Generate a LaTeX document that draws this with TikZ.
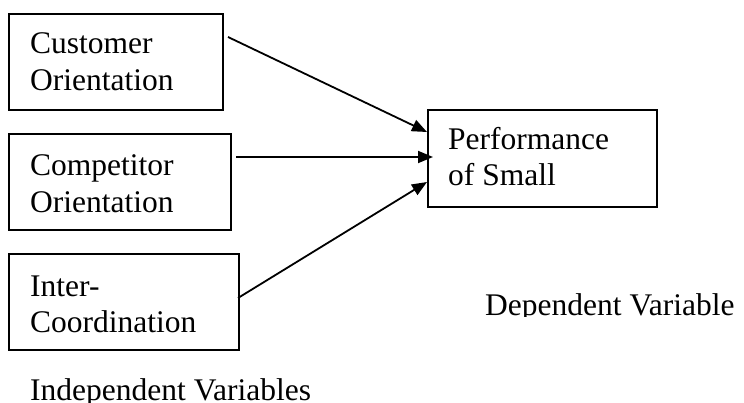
\documentclass[tikz,border=0pt]{standalone}
\usepackage{fontspec}
\setmainfont{Liberation Serif}
\usetikzlibrary{arrows.meta,calc}
\begin{document}
\begin{tikzpicture}[x=1pt,y=-1pt,
  box/.style={draw=black,line width=1.8pt,minimum width=#1,minimum height=96pt,inner sep=0pt,anchor=north west},
  txt/.style={anchor=base west,inner sep=0pt,font=\fontsize{31.5}{37}\selectfont},
  arr/.style={line width=1.8pt,-{Triangle[length=15pt,width=12pt]}}]
\useasboundingbox[fill=white] (0,0) rectangle (744,403);
% boxes
\node[box=214pt] (cust) at (8,13) {};
\node[box=222pt] (comp) at (8,133) {};
\node[box=230pt] (inter) at (8,253) {};
\node[box=229pt,minimum height=97pt] (perf) at (427,109) {};
% texts
\node[txt] (t1a) at (30,54) {Customer};
\node[txt] (t1b) at (30,91) {Orientation};
\node[txt] (t2a) at (30,176) {Competitor};
\node[txt] (t2b) at (30,213) {Orientation};
\node[txt] (t3a) at (30,297) {Inter-};
\node[txt] (t3b) at (30,332) {Coordination};
\node[txt] (t4a) at (448,150) {Performance};
\node[txt] (t4b) at (448,186) {of Small};
\node[txt] (indep) at (30,400) {Independent Variables};
\begin{scope}
  \clip (470,270) rectangle (744,316.5);
  \node[txt] (dep) at (485,315) {Dependent Variable};
\end{scope}
% arrows
\coordinate (s1) at (228,37);
\coordinate (s2) at (236,157);
\coordinate (s3) at (238,298);
\coordinate (e1) at ($(perf.north west)+(0,23)$);
\coordinate (e2) at ($(perf.north west)+(6,48)$);
\coordinate (e3) at ($(perf.north west)+(0,73)$);
\draw[arr] (s1) -- (e1);
\draw[arr] (s2) -- (e2);
\draw[arr] (s3) -- (e3);
\end{tikzpicture}
\end{document}
